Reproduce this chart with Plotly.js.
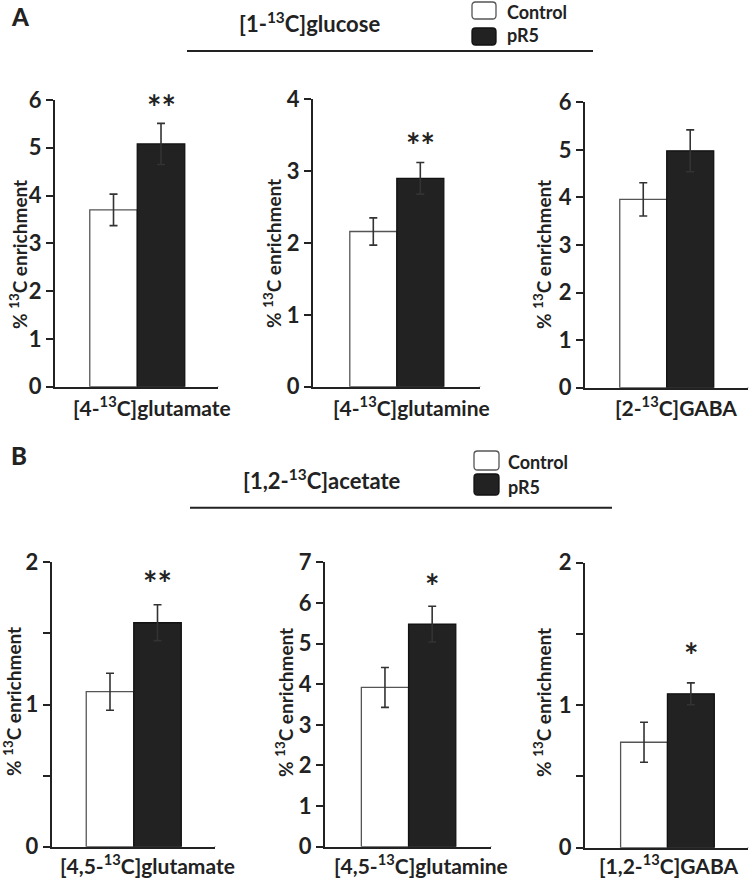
<!DOCTYPE html>
<html><head><meta charset="utf-8">
<script src="https://cdn.plot.ly/plotly-3.0.1.min.js"></script>
<style>html,body{margin:0;padding:0;background:#fff}#chart{width:750px;height:880px}</style>
</head><body><div id="chart"></div>
<script>
// ---------- DATA ----------
const series = ['Control', 'pR5'];
const panelLetters = ['A', 'B'];
const tracerTitles = ['[1-<sup>13</sup>C]glucose', '[1,2-<sup>13</sup>C]acetate'];
const metaboliteLabels = [
  '[4-<sup>13</sup>C]glutamate', '[4-<sup>13</sup>C]glutamine', '[2-<sup>13</sup>C]GABA',
  '[4,5-<sup>13</sup>C]glutamate', '[4,5-<sup>13</sup>C]glutamine', '[1,2-<sup>13</sup>C]GABA'
];
const controlMean = [3.70, 2.16, 3.96, 1.09, 3.92, 0.74];
const controlErr  = [0.33, 0.19, 0.35, 0.13, 0.49, 0.14];
const pr5Mean     = [5.08, 2.90, 4.98, 1.575, 5.48, 1.08];
const pr5Err      = [0.43, 0.22, 0.44, 0.126, 0.44, 0.077];
const significance = ['**', '**', '', '**', '*', '*'];
const yTickVals = [[0,1,2,3,4,5,6],[0,1,2,3,4],[0,1,2,3,4,5,6],[0,0.5,1,1.5,2],[0,1,2,3,4,5,6,7],[0,0.5,1,1.5,2]];
const yTickText = [['0','1','2','3','4','5','6'],['0','1','2','3','4'],['0','1','2','3','4','5','6'],['0','','1','','2'],['0','1','2','3','4','5','6','7'],['0','','1','','2']];
const yAxisTitle = '% <sup>13</sup>C enrichment';

// ---------- LAYOUT GEOMETRY (pixels) ----------
const W = 750, H = 880;
const px = x => x / W, py = y => 1 - y / H;
const boxes = [
  {x0:55,  x1:218, y0:100,   y1:386.7, xr:[-1.232,2.20], lab:0.82, star:-6, tx:18,  ty:255},
  {x0:313, x1:480, y0:99.3,  y1:386.7, xr:[-1.283,2.27], lab:0.82, star:-4, tx:273, ty:254},
  {x0:585, x1:748, y0:102.3, y1:387.7, xr:[-1.24,2.23],  lab:0.70, star:0,  tx:542, ty:255},
  {x0:51.7,x1:215, y0:562.3, y1:846.7, xr:[-1.227,2.21], lab:0.78, star:0,  tx:12,  ty:702},
  {x0:325, x1:491, y0:562.3, y1:846.7, xr:[-1.27,2.246], lab:0.76, star:-2, tx:284, ty:703},
  {x0:585, x1:748, y0:562.7, y1:847.7, xr:[-1.26,2.22],  lab:0.52, star:6,  tx:542, ty:703}
];
const rowGeom = [
  {letterY:16, titleX:309, titleY:23, lineY:51, lineX0:187, lineX1:593,
   legBoxX0:472, legBoxX1:496, legBoxes:[[2,19],[28,45]], legTextX:505, legTextY:[12,35], labBottom:422},
  {letterY:455, titleX:322, titleY:480, lineY:507.7, lineX0:190, lineX1:612,
   legBoxX0:474, legBoxX1:499, legBoxes:[[451,470],[474,495]], legTextX:506, legTextY:[462,487], labBottom:880}
];
const FONT = 'Lato, "Open Sans", sans-serif';
const INK = '#222';
const seriesFill = ['#ffffff', '#222222'];
const seriesLine = ['#555555', '#111111'];

function roundRect(x0, x1, top, bottom, r) {
  const a = px(x0), b = px(x1), t = py(top), u = py(bottom), rx = r / W, ry = r / H;
  return `M ${a+rx},${t} L ${b-rx},${t} Q ${b},${t} ${b},${t-ry} L ${b},${u+ry} Q ${b},${u} ${b-rx},${u} ` +
         `L ${a+rx},${u} Q ${a},${u} ${a},${u+ry} L ${a},${t-ry} Q ${a},${t} ${a+rx},${t} Z`;
}

const data = [], annotations = [], shapes = [];
const layout = {
  width: W, height: H, margin: {l:0, r:0, t:0, b:0},
  paper_bgcolor: '#fff', plot_bgcolor: 'rgba(0,0,0,0)',
  showlegend: false, barmode: 'overlay', bargap: 0,
  font: {family: FONT, color: INK}
};

boxes.forEach((b, i) => {
  const n = i === 0 ? '' : String(i + 1);
  const xa = 'x' + n, ya = 'y' + n;
  const means = [controlMean[i], pr5Mean[i]];
  const errs = [controlErr[i], pr5Err[i]];
  series.forEach((s, k) => {
    data.push({
      type: 'bar', x: [s], y: [means[k]], xaxis: xa, yaxis: ya, name: s,
      marker: {color: seriesFill[k], line: {color: seriesLine[k], width: 1.3}},
      error_y: {type: 'data', array: [errs[k]], visible: true, color: '#333', thickness: 1.6, width: 4},
      hoverinfo: 'skip'
    });
  });
  const ymax = yTickVals[i][yTickVals[i].length - 1];
  layout['xaxis' + n] = {
    domain: [px(b.x0), px(b.x1)], anchor: ya, type: 'category', categoryarray: series,
    range: b.xr, showline: true, linewidth: 2, linecolor: INK, showticklabels: false,
    ticks: '', showgrid: false, zeroline: false, fixedrange: true
  };
  layout['yaxis' + n] = {
    domain: [py(b.y1), py(b.y0)], anchor: xa, range: [0, ymax],
    tickmode: 'array', tickvals: yTickVals[i], ticktext: yTickText[i],
    showline: true, linewidth: 2, linecolor: INK, ticks: 'outside', ticklen: 7, tickwidth: 2, tickcolor: INK,
    showgrid: false, zeroline: false, fixedrange: true,
    tickfont: {family: FONT, size: 22, color: INK, weight: 700}
  };
  annotations.push({xref: 'paper', yref: 'paper', x: px(b.tx), y: py(b.ty), text: yAxisTitle, textangle: -90,
    showarrow: false, xanchor: 'center', yanchor: 'middle', font: {family: FONT, size: 19, color: INK, weight: 700}});
  shapes.push({type: 'line', xref: xa + ' domain', yref: ya, x0: 1, x1: 1,
    ysizemode: 'pixel', yanchor: 0, y0: 0, y1: -7, line: {color: INK, width: 2}});
  const row = rowGeom[i < 3 ? 0 : 1];
  annotations.push({xref: xa, yref: 'paper', x: b.lab, y: py(row.labBottom), text: metaboliteLabels[i],
    showarrow: false, xanchor: 'center', yanchor: 'bottom', font: {family: FONT, size: 21, color: INK, weight: 700}});
  if (significance[i]) {
    annotations.push({xref: xa, yref: ya, x: series[1], y: pr5Mean[i] + pr5Err[i], text: significance[i],
      showarrow: false, xanchor: 'center', yanchor: 'bottom', yshift: b.star,
      font: {family: FONT, size: 34, color: INK, weight: 700}});
  }
});

rowGeom.forEach((r, j) => {
  annotations.push({xref: 'paper', yref: 'paper', x: px(9), y: py(r.letterY), text: panelLetters[j],
    showarrow: false, xanchor: 'left', yanchor: 'middle', font: {family: FONT, size: 24, color: INK, weight: 900}});
  annotations.push({xref: 'paper', yref: 'paper', x: px(r.titleX), y: py(r.titleY), text: tracerTitles[j],
    showarrow: false, xanchor: 'center', yanchor: 'middle', font: {family: FONT, size: 22, color: INK, weight: 700}});
  shapes.push({type: 'line', xref: 'paper', yref: 'paper', x0: px(r.lineX0), x1: px(r.lineX1), y0: py(r.lineY), y1: py(r.lineY),
    line: {color: INK, width: 2}});
  series.forEach((s, k) => {
    shapes.push({type: 'path', xref: 'paper', yref: 'paper',
      path: roundRect(r.legBoxX0, r.legBoxX1, r.legBoxes[k][0], r.legBoxes[k][1], 3.5),
      fillcolor: seriesFill[k], line: {color: seriesLine[k], width: 1.3}});
    annotations.push({xref: 'paper', yref: 'paper', x: px(r.legTextX), y: py(r.legTextY[k]), text: s,
      showarrow: false, xanchor: 'left', yanchor: 'middle', font: {family: FONT, size: 18, color: INK, weight: 700}});
  });
});

layout.annotations = annotations;
layout.shapes = shapes;
Plotly.newPlot('chart', data, layout, {displayModeBar: false, staticPlot: true});
</script>
</body></html>
